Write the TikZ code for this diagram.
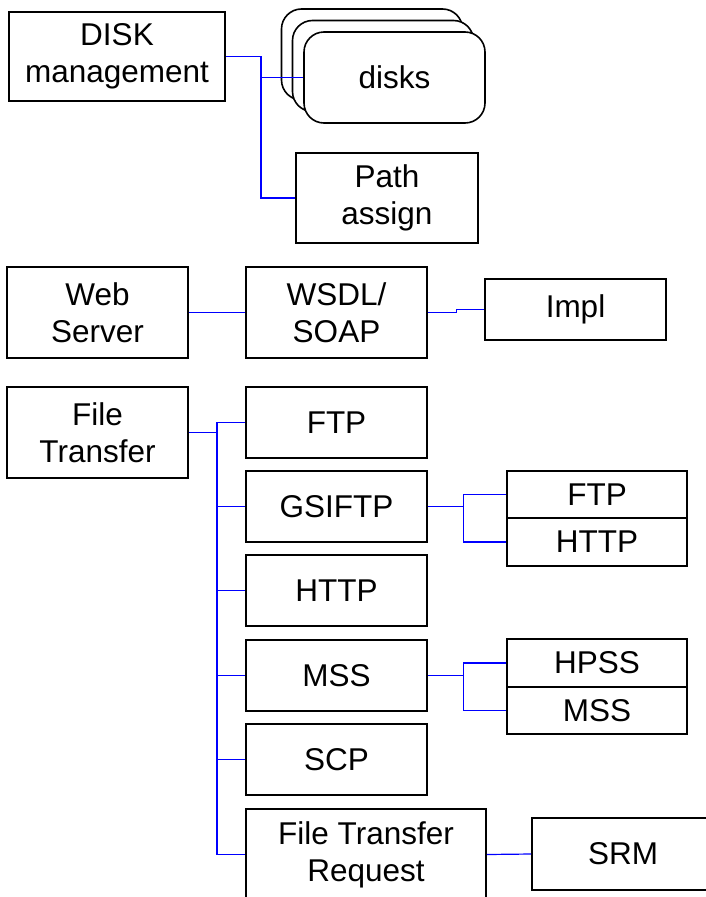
\documentclass[tikz,border=0pt]{standalone}
\usepackage{fontspec}
\setmainfont{Liberation Sans}
\definecolor{linkblue}{RGB}{0,0,255}
\tikzset{
  box/.style={draw=black, line width=1.6pt, fill=white, inner sep=0pt,
    align=center, font=\fontsize{31.5}{37}\selectfont},
  rbox/.style={box, rounded corners=20pt},
  link/.style={draw=linkblue, line width=1.2pt},
}
\begin{document}
\begin{tikzpicture}[x=1pt, y=-1pt]
\useasboundingbox (0,0) rectangle (706,897);
\clip (0,0) rectangle (706,897);

% disk management group
\node[box, minimum width=216pt, minimum height=89pt] (dm) at (117,56.5) {DISK\\management};
\node[rbox, minimum width=181pt, minimum height=91pt] (diskc) at (372,54.5) {};
\node[rbox, minimum width=181pt, minimum height=91pt] (diskb) at (383,66) {};
\node[rbox, minimum width=181pt, minimum height=91pt] (disks) at (394.5,77.5) {disks};
\node[box, minimum width=182pt, minimum height=90pt] (path) at (387,198) {Path\\assign};

% web service group
\node[box, minimum width=181pt, minimum height=91pt] (ws) at (97.5,312.5) {Web\\Server};
\node[box, minimum width=181pt, minimum height=91pt] (wsdl) at (336.5,312.5) {WSDL/\\SOAP};
\node[box, minimum width=181pt, minimum height=61pt] (impl) at (575.5,309.5) {Impl};

% file transfer group
\node[box, minimum width=181pt, minimum height=91pt] (ft) at (97.5,432.5) {File\\Transfer};
\node[box, minimum width=181pt, minimum height=71pt] (ftp) at (336.5,422.5) {FTP};
\node[box, minimum width=181pt, minimum height=71pt] (gsi) at (336.5,506.5) {GSIFTP};
\node[box, minimum width=181pt, minimum height=71pt] (http) at (336.5,590.5) {HTTP};
\node[box, minimum width=181pt, minimum height=71pt] (mss) at (336.5,675.5) {MSS};
\node[box, minimum width=181pt, minimum height=71pt] (scp) at (336.5,759.5) {SCP};
\node[box, minimum width=240pt, minimum height=91pt] (ftr) at (366,854.5) {File Transfer\\Request};

\node[box, minimum width=180pt, minimum height=47pt] (gftp) at (597,494.5) {FTP};
\node[box, minimum width=180pt, minimum height=48pt] (ghttp) at (597,542) {HTTP};
\node[box, minimum width=180pt, minimum height=48pt] (hpss) at (597,663) {HPSS};
\node[box, minimum width=180pt, minimum height=47pt] (msub) at (597,710.5) {MSS};
\node[box, minimum width=182pt, minimum height=72pt] (srm) at (623,854) {SRM};

% connectors
\coordinate (jd) at (261,56.5);
\draw[link] (dm.east) -- (jd) |- (disks.west);
\draw[link] (jd) |- (path.west);

\draw[link] (ws.east) -- (wsdl.west);
\draw[link] (wsdl.east) -- ++(29,0) |- (impl.west);

\coordinate (jf) at (217,432.5);
\draw[link] (ft.east) -- (jf);
\foreach \n in {ftp,gsi,http,mss,scp,ftr}
  \draw[link] (jf) |- (\n.west);

\draw[link] (gsi.east) -- ++(36,0) coordinate (jg);
\draw[link] (jg) |- (gftp.west);
\draw[link] (jg) |- (ghttp.west);

\draw[link] (mss.east) -- ++(36,0) coordinate (jm);
\draw[link] (jm) |- (hpss.west);
\draw[link] (jm) |- (msub.west);

\draw[link] (ftr.east) -- (srm.west);
\end{tikzpicture}
\end{document}
